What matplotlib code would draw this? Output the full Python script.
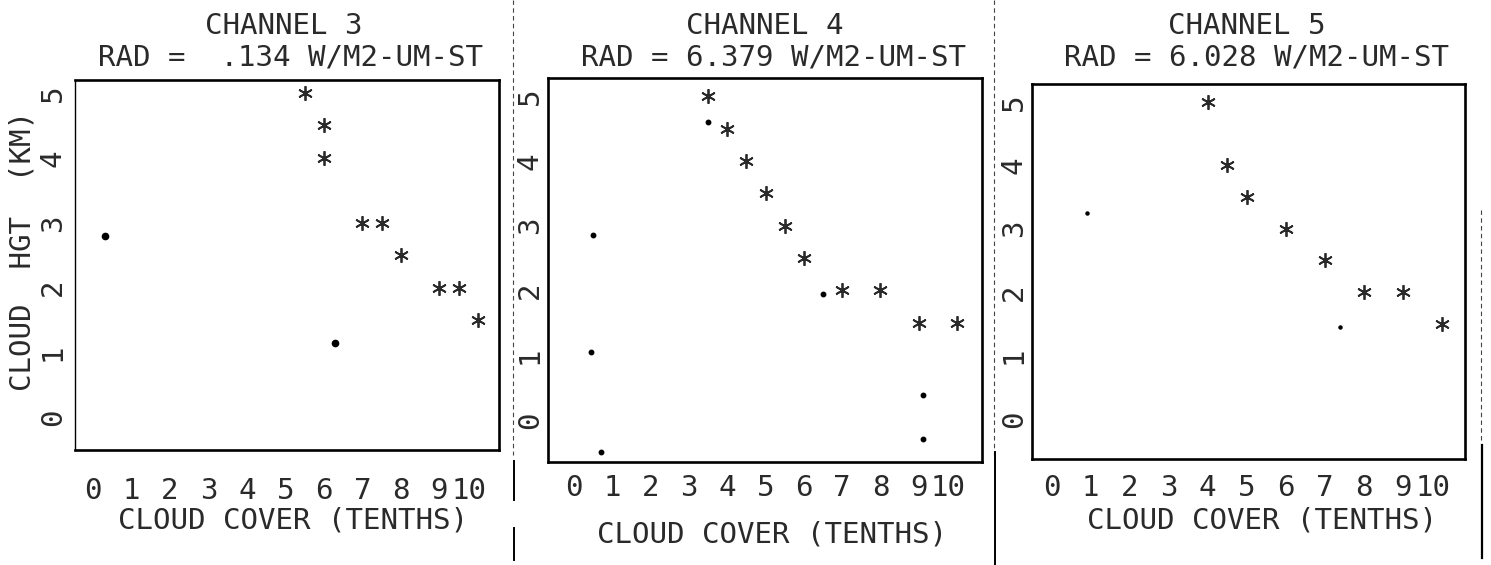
import matplotlib
matplotlib.use("Agg")
import matplotlib.pyplot as plt
from matplotlib.lines import Line2D
from matplotlib.transforms import ScaledTranslation

W, H = 1491, 565

# cloud height (km) vs cloud cover (tenths), one panel per channel
channels = ["CHANNEL 3", "CHANNEL 4", "CHANNEL 5"]
rad_labels = ["RAD =  .134 W/M2-UM-ST", "RAD = 6.379 W/M2-UM-ST", "RAD = 6.028 W/M2-UM-ST"]

ch3_star_x = [5.5, 6, 6, 7, 7.5, 8, 9, 9.5, 10]
ch3_star_y = [5, 4.5, 4, 3, 3, 2.5, 2, 2, 1.5]
ch3_dot_x = [0.3, 6.3]
ch3_dot_y = [2.8, 1.15]

ch4_star_x = [3.5, 4, 4.5, 5, 5.5, 6, 7, 8, 9, 10]
ch4_star_y = [5, 4.5, 4, 3.5, 3, 2.5, 2, 2, 1.5, 1.5]
ch4_dot_x = [0.5, 0.45, 0.7, 3.5, 6.5, 9.1, 9.1]
ch4_dot_y = [2.85, 1.05, -0.5, 4.6, 1.95, 0.38, -0.3]

ch5_star_x = [4, 4.5, 5, 6, 7, 8, 9, 10]
ch5_star_y = [5, 4, 3.5, 3, 2.5, 2, 2, 1.5]
ch5_dot_x = [0.9, 7.4]
ch5_dot_y = [3.25, 1.45]

x_ticks = list(range(11))
x_tick_labels = [str(v) for v in x_ticks]
y_ticks = list(range(6))
y_tick_labels = [str(v) for v in y_ticks]

stars = [(ch3_star_x, ch3_star_y), (ch4_star_x, ch4_star_y), (ch5_star_x, ch5_star_y)]
dots = [(ch3_dot_x, ch3_dot_y), (ch4_dot_x, ch4_dot_y), (ch5_dot_x, ch5_dot_y)]

# panel boxes in pixels: left, top, right, bottom ; and axis limits
boxes = [(75, 80, 499, 450), (548, 78, 982, 462), (1032, 84, 1465, 459)]
xlims = [(-0.47, 10.55), (-0.68, 10.65), (-0.5, 10.6)]
ylims = [(-0.5, 5.2), (-0.65, 5.28), (-0.63, 5.28)]
title_x = [(284, 291), (765, 774), (1247, 1257)]
xlabel_pos = [(293, 521), (772, 534), (1262, 521)]
tick_row_y = [488, 485, 485]
ytick_pad = [6, 3, 3]
dot_sizes = [4.5, 3.2, 2.2]

FONT = "DejaVu Sans Mono"
INK = "#2a2a2a"
FS = 21

fig = plt.figure(figsize=(W / 100, H / 100), dpi=100)
fig.patch.set_facecolor("white")


def fx(px):
    return px / W


def fy(py):
    return 1 - py / H


for i in range(3):
    l, t, r, b = boxes[i]
    ax = fig.add_axes([fx(l), fy(b), (r - l) / W, (b - t) / H])
    sx, sy = stars[i]
    dx, dy = dots[i]
    ax.plot(sx, sy, linestyle="none", marker=(6, 2, 0), markersize=10.5,
            markeredgewidth=1.3, color=INK)
    ax.plot(dx, dy, linestyle="none", marker="o", markersize=dot_sizes[i],
            color="black")
    ax.set_xlim(*xlims[i])
    ax.set_ylim(*ylims[i])

    for side in ["left", "right", "top", "bottom"]:
        ax.spines[side].set_linewidth(1.9)
        ax.spines[side].set_color("black")
    if i == 0:
        ax.spines["left"].set_linewidth(1.0)

    ax.set_xticks(x_ticks)
    ax.set_xticklabels(x_tick_labels, fontfamily=FONT, fontsize=FS, color=INK)
    ax.set_yticks(y_ticks)
    ax.set_yticklabels(y_tick_labels, fontfamily=FONT, fontsize=FS, color=INK,
                       rotation=90, va="center")
    pad_x = (tick_row_y[i] - 11 - b) * 0.72
    ax.tick_params(axis="x", length=0, pad=pad_x)
    ax.tick_params(axis="y", length=0, pad=ytick_pad[i])

    # the "10" sits right against the "9" on the printout
    last = ax.get_xticklabels()[-1]
    last.set_transform(last.get_transform() + ScaledTranslation(-9 / 100, 0, fig.dpi_scale_trans))

    fig.text(fx(title_x[i][0]), fy(26), channels[i], ha="center", va="center",
             fontfamily=FONT, fontsize=FS, color=INK)
    fig.text(fx(title_x[i][1]), fy(58), rad_labels[i], ha="center", va="center",
             fontfamily=FONT, fontsize=FS, color=INK)
    fig.text(fx(xlabel_pos[i][0]), fy(xlabel_pos[i][1]), "CLOUD COVER (TENTHS)",
             ha="center", va="center", fontfamily=FONT, fontsize=FS, color=INK)

fig.text(fx(23), fy(251), "CLOUD  HGT  (KM)", rotation=90, ha="center", va="center",
         fontfamily=FONT, fontsize=FS, color=INK)

# page separators between the three printouts
for x in [513, 994]:
    fig.add_artist(Line2D([fx(x), fx(x)], [fy(0), fy(455)], color="#444444",
                          linewidth=0.8, linestyle=(0, (4, 3))))
fig.add_artist(Line2D([fx(514), fx(514)], [fy(461), fy(500)], color="black", linewidth=1.4))
fig.add_artist(Line2D([fx(514), fx(514)], [fy(528), fy(560)], color="black", linewidth=1.4))
fig.add_artist(Line2D([fx(995), fx(995)], [fy(452), fy(565)], color="black", linewidth=1.4))
fig.add_artist(Line2D([fx(1481), fx(1481)], [fy(210), fy(440)], color="#444444",
                      linewidth=0.8, linestyle=(0, (4, 3))))
fig.add_artist(Line2D([fx(1482), fx(1482)], [fy(445), fy(558)], color="black", linewidth=1.6))

fig.savefig("out.png", dpi=100, facecolor="white")
